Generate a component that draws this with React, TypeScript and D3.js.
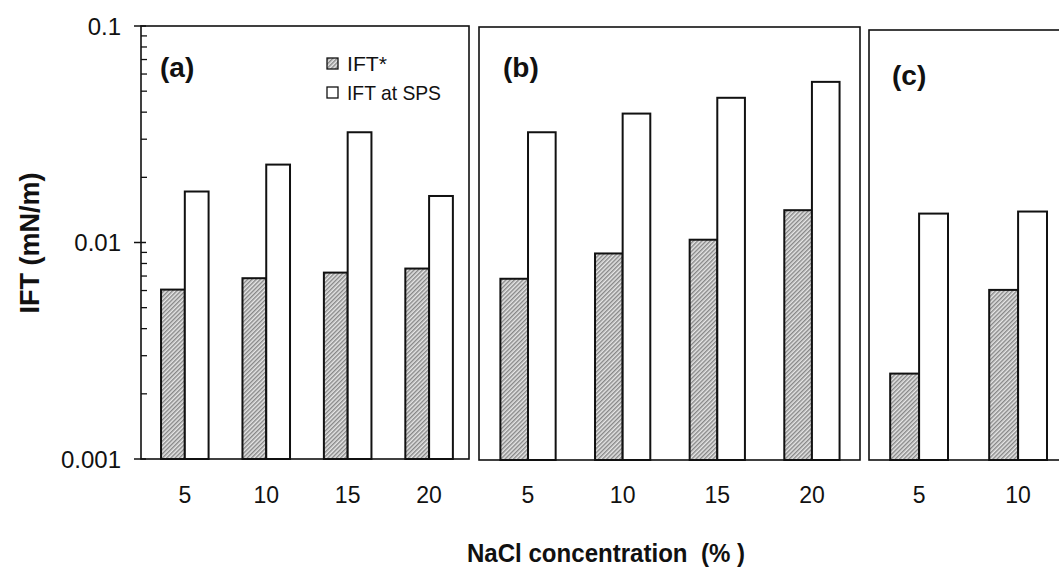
import React from "react";
import * as d3 from "d3";

const concentrations = [5, 10, 15, 20];
const panelLabels = ["(a)", "(b)", "(c)"];
const seriesNames = ["IFT*", "IFT at SPS"];

const iftStarA = [0.00606, 0.00684, 0.00726, 0.00758];
const iftSpsA = [0.0172, 0.0229, 0.0323, 0.0164];
const iftStarB = [0.0068, 0.0089, 0.0103, 0.0141];
const iftSpsB = [0.0323, 0.0394, 0.0466, 0.0552];
const concentrationsC = [5, 10];
const iftStarC = [0.00248, 0.00604];
const iftSpsC = [0.0136, 0.0139];

const yTicks = [0.001, 0.01, 0.1];
const yTickLabels = ["0.001", "0.01", "0.1"];

const W = 1059;
const H = 567;
const FONT = "'Liberation Sans', Arial, Helvetica, sans-serif";

const yScale = d3.scaleLog().domain([0.001, 0.1]).range([459, 26]);

const panels = [
  { label: panelLabels[0], x0: 141, x1: 469, top: 26, bottom: 459, domain: [2.31, 22.45], cats: concentrations, star: iftStarA, sps: iftSpsA, lx: 160, ly: 77 },
  { label: panelLabels[1], x0: 479, x1: 860, top: 27, bottom: 460, domain: [2.41, 22.54], cats: concentrations, star: iftStarB, sps: iftSpsB, lx: 503, ly: 77 },
  { label: panelLabels[2], x0: 869, x1: 1265, top: 30, bottom: 460, domain: [2.47, 22.47], cats: concentrationsC, star: iftStarC, sps: iftSpsC, lx: 892, ly: 85 },
];

const BAR_W = 1.46;

export default function App() {
  const minorTicks: number[] = [];
  for (let d = 0.001; d < 0.1 - 1e-9; d *= 10) {
    for (let k = 2; k <= 9; k++) minorTicks.push(d * k);
  }
  const axisX = panels[0].x0;
  return (
    <svg width={W} height={H} style={{ position: "absolute", left: 0, top: 0, background: "#fff" }} fontFamily={FONT}>
      <defs>
        <pattern id="hatch" width={3} height={3} patternUnits="userSpaceOnUse" patternTransform="rotate(45)">
          <rect width={3} height={3} fill="#e6e6e6" />
          <line x1={0.8} y1={0} x2={0.8} y2={3} stroke="#5e5e5e" strokeWidth={1} />
        </pattern>
        <clipPath id="pageclip">
          <rect x={0} y={0} width={W} height={H} />
        </clipPath>
      </defs>
      <rect x={0} y={0} width={W} height={H} fill="#fff" />
      {panels.map((p, pi) => {
        const x = d3.scaleLinear().domain(p.domain).range([p.x0, p.x1]);
        const bw = x(p.domain[0] + BAR_W) - x(p.domain[0]);
        return (
          <g key={pi} clipPath="url(#pageclip)">
            {p.cats.map((c, i) => {
              const cx = x(c);
              const yS = yScale(p.star[i]);
              const yP = yScale(p.sps[i]);
              return (
                <g key={c}>
                  <rect x={cx - bw} y={yS} width={bw} height={p.bottom - yS} fill="url(#hatch)" stroke="#111" strokeWidth={2} />
                  <rect x={cx} y={yP} width={bw} height={p.bottom - yP} fill="#fff" stroke="#111" strokeWidth={2} />
                  <text x={cx} y={503} fontSize={23} textAnchor="middle" fill="#111">{c}</text>
                </g>
              );
            })}
            <rect x={p.x0} y={p.top} width={p.x1 - p.x0} height={p.bottom - p.top} fill="none" stroke="#111" strokeWidth={1.6} />
            <text x={p.lx} y={p.ly} fontSize={28} fontWeight="bold" fill="#111">{p.label}</text>
          </g>
        );
      })}
      {/* y axis ticks */}
      {minorTicks.map((t, i) => (
        <line key={"m" + i} x1={axisX} x2={axisX + 6} y1={yScale(t)} y2={yScale(t)} stroke="#111" strokeWidth={1.3} />
      ))}
      {yTicks.map((t, i) => (
        <g key={"t" + i}>
          <line x1={axisX - 7} x2={axisX + 5} y1={yScale(t)} y2={yScale(t)} stroke="#111" strokeWidth={1.5} />
          <text x={axisX - 20} y={yScale(t) + 8.5} fontSize={24} textAnchor="end" fill="#111">{yTickLabels[i]}</text>
        </g>
      ))}
      {/* legend */}
      <g>
        <rect x={327} y={58} width={11} height={11} fill="url(#hatch)" stroke="#111" strokeWidth={1.3} />
        <text x={347} y={71} fontSize={21} fill="#111" textLength={40} lengthAdjust="spacingAndGlyphs">{seriesNames[0]}</text>
        <rect x={327} y={87} width={11} height={11} fill="#fff" stroke="#111" strokeWidth={1.3} />
        <text x={347} y={100} fontSize={21} fill="#111" textLength={94} lengthAdjust="spacingAndGlyphs">{seriesNames[1]}</text>
      </g>
      {/* axis titles */}
      <text transform="translate(39,243) rotate(-90)" fontSize={27} fontWeight="bold" textAnchor="middle" fill="#111">IFT (mN/m)</text>
      <text x={606} y={562} fontSize={26} fontWeight="bold" textAnchor="middle" fill="#111" xmlSpace="preserve" textLength={278} lengthAdjust="spacingAndGlyphs">NaCl concentration  (% )</text>
    </svg>
  );
}
